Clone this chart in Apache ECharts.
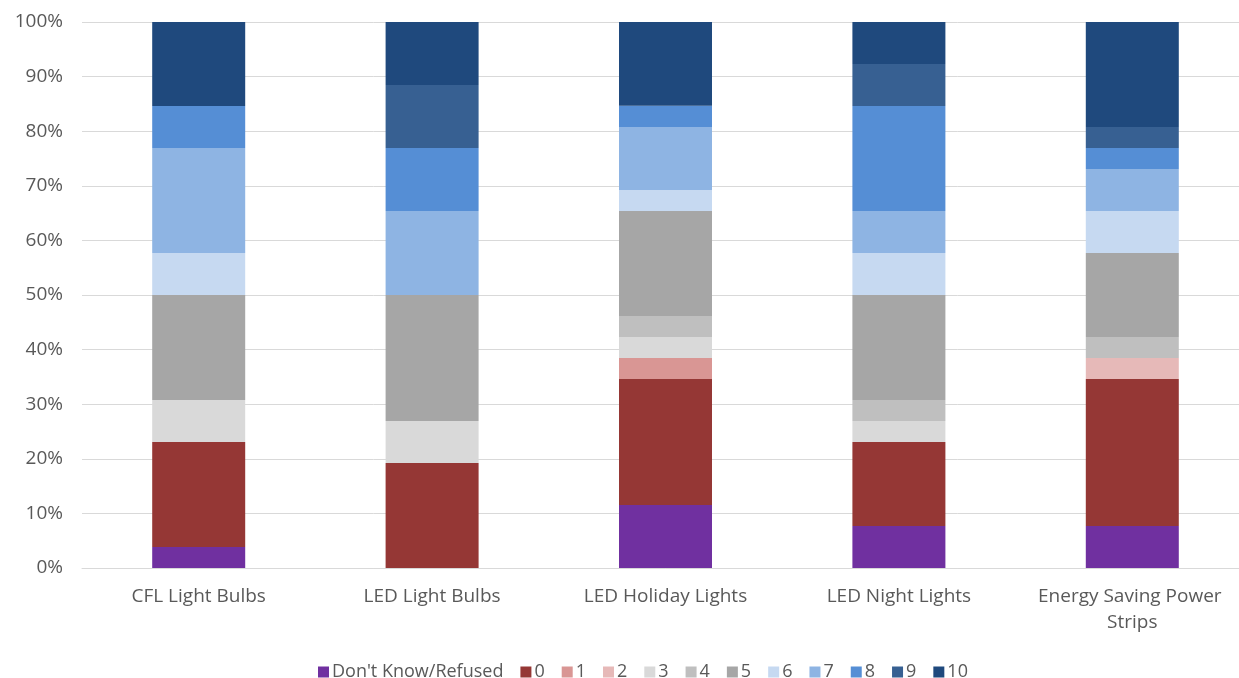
<!DOCTYPE html>
<html>
<head>
<meta charset="utf-8">
<script src="https://cdn.jsdelivr.net/npm/echarts@6/dist/echarts.min.js"></script>
<style>html,body{margin:0;padding:0;background:#fff;overflow:hidden;}#c{width:1250px;height:678px;}</style>
</head>
<body>
<div id="c"></div>
<script>
const categories = ['CFL Light Bulbs', 'LED Light Bulbs', 'LED Holiday Lights', 'LED Night Lights', 'Energy Saving Power Strips'];
const seriesNames = ["Don't Know/Refused", '0', '1', '2', '3', '4', '5', '6', '7', '8', '9', '10'];
// percent shares per category
const dontKnow = [3.85, 0, 11.54, 7.69, 7.69];
const s0  = [19.23, 19.23, 23.08, 15.38, 26.92];
const s1  = [0, 0, 3.85, 0, 0];
const s2  = [0, 0, 0, 0, 3.85];
const s3  = [7.69, 7.69, 3.85, 3.85, 0];
const s4  = [0, 0, 3.85, 3.85, 3.85];
const s5  = [19.23, 23.08, 19.23, 19.23, 15.38];
const s6  = [7.69, 0, 3.85, 7.69, 7.69];
const s7  = [19.23, 15.38, 11.54, 7.69, 7.69];
const s8  = [7.69, 11.54, 3.85, 19.23, 3.85];
const s9  = [0, 11.54, 0, 7.69, 3.85];
const s10 = [15.38, 11.54, 15.38, 7.69, 19.23];
const yTicks = [0, 10, 20, 30, 40, 50, 60, 70, 80, 90, 100];

const values = [dontKnow, s0, s1, s2, s3, s4, s5, s6, s7, s8, s9, s10];
const colors = ['#7030A0', '#953735', '#D99694', '#E6B9B8', '#D9D9D9', '#BFBFBF', '#A6A6A6', '#C6D9F1', '#8EB4E3', '#558ED5', '#376092', '#1F497D'];

const chart = echarts.init(document.getElementById('c'), null, {renderer: 'canvas'});
const font = '"Open Sans", "Liberation Sans", sans-serif';
chart.setOption({
  animation: false,
  color: colors,
  grid: {left: 82, top: 22, width: 1167, bottom: 110, containLabel: false},
  legend: {
    top: 658,
    left: 313,
    itemWidth: 11,
    itemHeight: 11,
    itemGap: 17,
    icon: 'rect',
    textStyle: {color: '#595959', fontSize: 18, fontFamily: font, padding: [0, 0, 0, -2]},
    data: seriesNames
  },
  xAxis: {
    type: 'category',
    data: categories,
    axisLine: {lineStyle: {color: '#D9D9D9'}},
    axisTick: {show: false},
    axisLabel: {color: '#595959', fontSize: 19, fontFamily: font, margin: 16, width: 205, overflow: 'break', lineHeight: 26, interval: 0}
  },
  yAxis: {
    type: 'value',
    min: yTicks[0],
    max: yTicks[yTicks.length - 1],
    interval: 10,
    axisLine: {show: false},
    axisTick: {show: false},
    splitLine: {lineStyle: {color: '#D9D9D9', width: 1}},
    axisLabel: {color: '#595959', fontSize: 19, fontFamily: font, margin: 19, formatter: v => v + '%'}
  },
  series: seriesNames.map((name, i) => ({
    name: name,
    type: 'bar',
    stack: 'total',
    barWidth: 93,
    data: values[i],
    itemStyle: {color: colors[i]}
  }))
});
</script>
</body>
</html>
